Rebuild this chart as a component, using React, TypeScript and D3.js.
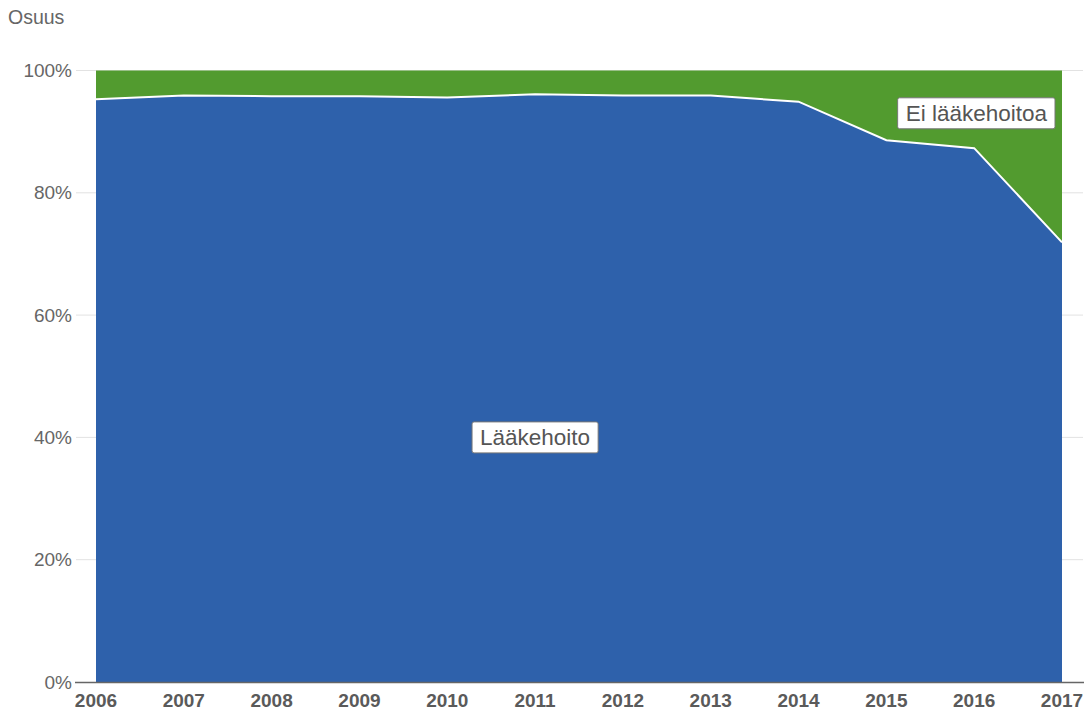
import React, { useLayoutEffect, useRef, useState } from "react";
import * as d3 from "d3";

const years = [2006, 2007, 2008, 2009, 2010, 2011, 2012, 2013, 2014, 2015, 2016, 2017];
const medicated = [95.3, 95.9, 95.8, 95.8, 95.6, 96.1, 95.9, 95.9, 94.9, 88.6, 87.3, 71.9];
const yTicks = [0, 20, 40, 60, 80, 100];
const seriesNames = ["Lääkehoito", "Ei lääkehoitoa"];
const yAxisTitle = "Osuus";

const W = 1087;
const H = 711;
const BLUE = "#2e61ab";
const GREEN = "#529b2f";
const FONT = "'Liberation Sans', Arial, Helvetica, sans-serif";

function LabelBox({ x, y, text, anchor }: { x: number; y: number; text: string; anchor: "middle" | "end" }) {
  const ref = useRef<SVGTextElement>(null);
  const [w, setW] = useState(110);
  useLayoutEffect(() => {
    if (ref.current) setW(ref.current.getComputedTextLength());
  }, [text]);
  const padX = 8;
  const bw = w + padX * 2;
  const bh = 31;
  const left = anchor === "middle" ? x - bw / 2 : x - bw;
  return (
    <g>
      <rect x={left} y={y - bh / 2} width={bw} height={bh} rx={2} fill="#fff" stroke="#777" strokeWidth={1} />
      <text ref={ref} x={left + padX} y={y + 8} fontSize={22.5} fill="#555" fontFamily={FONT}>
        {text}
      </text>
    </g>
  );
}

export default function App() {
  const x = d3.scaleLinear().domain([2006, 2017]).range([96, 1062]);
  const y = d3.scaleLinear().domain([0, 100]).range([682, 70.5]);
  const data = years.map((yr, i) => ({ yr, v: medicated[i] }));

  const blueArea = d3.area<{ yr: number; v: number }>().x((d) => x(d.yr)).y0(y(0)).y1((d) => y(d.v))(data) || "";
  const greenArea = d3.area<{ yr: number; v: number }>().x((d) => x(d.yr)).y0((d) => y(d.v)).y1(y(100))(data) || "";
  const line = d3.line<{ yr: number; v: number }>().x((d) => x(d.yr)).y((d) => y(d.v))(data) || "";

  return (
    <svg width={W} height={H} style={{ position: "absolute", left: 0, top: 0, background: "#fff" }} fontFamily={FONT}>
      <text x={8} y={24} fontSize={19.5} fill="#666">{yAxisTitle}</text>
      {yTicks.map((t) => (
        <g key={t}>
          {t > 0 && <line x1={76} x2={1083} y1={y(t)} y2={y(t)} stroke="#e2e2e2" strokeWidth={1} />}
          <text x={72} y={y(t) + 6.5} textAnchor="end" fontSize={19} fill="#666">{t}%</text>
        </g>
      ))}
      <path d={greenArea} fill={GREEN} />
      <path d={blueArea} fill={BLUE} />
      <path d={line} fill="none" stroke="#fff" strokeWidth={2} />
      <line x1={75} x2={1084} y1={y(0) + 0.5} y2={y(0) + 0.5} stroke="#666" strokeWidth={1.5} />
      {years.map((yr) => (
        <text key={yr} x={x(yr)} y={706.5} textAnchor="middle" fontSize={19} fontWeight="bold" fill="#5a5a5a">{yr}</text>
      ))}
      <LabelBox x={x(2011)} y={y(40)} text={seriesNames[0]} anchor="middle" />
      <LabelBox x={x(2017) - 7} y={y(93)} text={seriesNames[1]} anchor="end" />
    </svg>
  );
}
